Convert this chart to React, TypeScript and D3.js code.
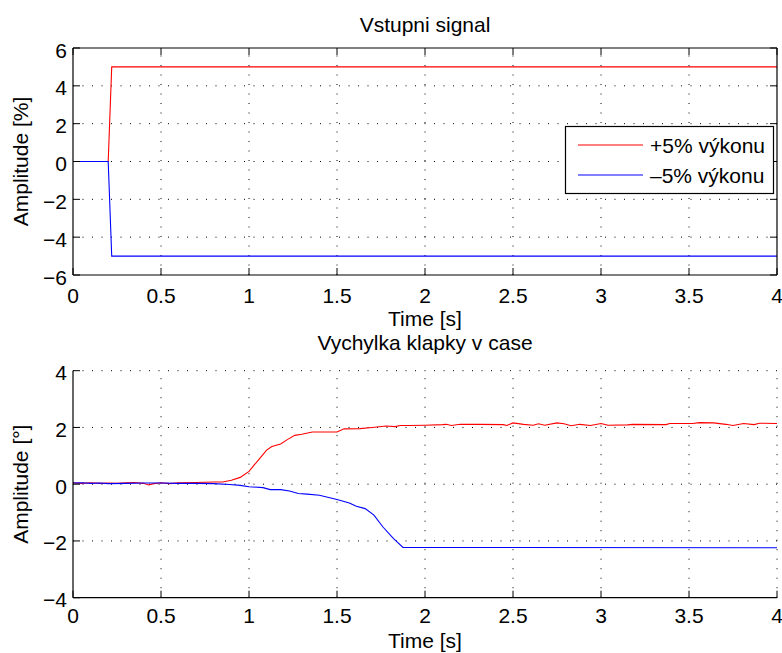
import React from "react";
import * as d3 from "d3";

const inputTime = [0, 0.2, 0.22, 4];
const inputPlus = [0, 0, 5, 5];
const inputMinus = [0, 0, -5, -5];

const respTimePlus = [0, 0.05, 0.1, 0.15, 0.2, 0.25, 0.3, 0.35, 0.4, 0.43, 0.46, 0.5, 0.55, 0.6, 0.7, 0.8, 0.85, 0.9, 0.95, 1.0, 1.03, 1.06, 1.1, 1.13, 1.18, 1.22, 1.26, 1.3, 1.36, 1.5, 1.54, 1.63, 1.7, 1.78, 1.83, 1.86, 1.91, 2.0, 2.1, 2.12, 2.15, 2.2, 2.31, 2.445, 2.465, 2.5, 2.56, 2.615, 2.645, 2.68, 2.75, 2.79, 2.83, 2.88, 2.94, 3.0, 3.04, 3.15, 3.18, 3.37, 3.39, 3.52, 3.56, 3.64, 3.71, 3.75, 3.81, 3.87, 3.9, 4.0];
const respPlus = [0.05, 0.03, 0.05, 0.03, 0.04, 0.03, 0.05, 0.06, 0.03, -0.03, 0.02, 0.05, 0.02, 0.05, 0.06, 0.08, 0.08, 0.14, 0.24, 0.45, 0.68, 0.9, 1.2, 1.33, 1.42, 1.58, 1.72, 1.76, 1.84, 1.84, 1.95, 1.96, 2.0, 2.05, 2.03, 2.07, 2.07, 2.08, 2.1, 2.11, 2.07, 2.11, 2.11, 2.1, 2.07, 2.16, 2.11, 2.08, 2.13, 2.08, 2.16, 2.13, 2.06, 2.11, 2.07, 2.14, 2.08, 2.09, 2.11, 2.1, 2.14, 2.14, 2.17, 2.16, 2.11, 2.07, 2.14, 2.1, 2.15, 2.14];

const respTimeMinus = [0, 0.05, 0.1, 0.15, 0.2, 0.3, 0.4, 0.5, 0.6, 0.7, 0.8, 0.89, 0.95, 1.0, 1.08, 1.12, 1.18, 1.23, 1.28, 1.33, 1.4, 1.5, 1.57, 1.61, 1.66, 1.71, 1.76, 1.82, 1.875, 4.0];
const respMinus = [0.04, 0.05, 0.03, 0.04, 0.02, 0.03, 0.04, 0.04, 0.03, 0.03, 0.02, -0.01, -0.04, -0.09, -0.12, -0.19, -0.19, -0.24, -0.33, -0.35, -0.39, -0.54, -0.66, -0.78, -0.86, -1.09, -1.5, -1.91, -2.23, -2.24];

const xTicks = [0, 0.5, 1, 1.5, 2, 2.5, 3, 3.5, 4];
const xTickLabels = ["0", "0.5", "1", "1.5", "2", "2.5", "3", "3.5", "4"];
const yTicksTop = [-6, -4, -2, 0, 2, 4, 6];
const yTicksBottom = [-4, -2, 0, 2, 4];

const legendLabels = ["+5% výkonu", "\u20135% výkonu"];
const seriesColors = ["#ff0000", "#0000ff"];

const FONT = "'Liberation Sans', Arial, Helvetica, sans-serif";
const FS = 21;
const TICK = 7;
const DASH = "1,8.5";

const fmtY = (v: number) => (v < 0 ? "\u2212" + Math.abs(v) : String(v));

function Panel({ yDomain, yRange, yTicks, box, title, titleY, ylabel, series, tickBaseline, xlabelBaseline }: any) {
  const x = d3.scaleLinear().domain([0, 4]).range([73, 777]);
  const y = d3.scaleLinear().domain(yDomain).range(yRange);
  const [x0, x1] = x.range();
  const yb = y(yDomain[0]);
  const yt = y(yDomain[1]);
  const line = d3.line<[number, number]>().x((d) => x(d[0])).y((d) => y(d[1]));
  const vGrid = xTicks.filter((t) => t !== 0 && (!box || t !== 4));
  const hGrid = yTicks.filter((t: number) => t !== yDomain[0] && (!box || t !== yDomain[1]));
  return (
    <g>
      {vGrid.map((t) => (
        <line key={"vg" + t} x1={x(t)} x2={x(t)} y1={yb} y2={yt} stroke="#000" strokeWidth={1} strokeDasharray={DASH} />
      ))}
      {hGrid.map((t: number) => (
        <line key={"hg" + t} x1={x0} x2={x1} y1={y(t)} y2={y(t)} stroke="#000" strokeWidth={1} strokeDasharray={DASH} />
      ))}
      {series.map((s: any, i: number) => (
        <path key={"s" + i} d={line(s.t.map((tt: number, j: number) => [tt, s.v[j]]) as any) || ""} fill="none" stroke={s.color} strokeWidth={1.1} />
      ))}
      {/* axes */}
      <line x1={x0} x2={x1} y1={yb} y2={yb} stroke="#000" strokeWidth={1.2} />
      <line x1={x0} x2={x0} y1={yb} y2={yt} stroke="#000" strokeWidth={1.2} />
      {box && <line x1={x0} x2={x1} y1={yt} y2={yt} stroke="#000" strokeWidth={1.2} />}
      {box && <line x1={x1} x2={x1} y1={yb} y2={yt} stroke="#000" strokeWidth={1.2} />}
      {xTicks.map((t, i) => (
        <g key={"xt" + t}>
          <line x1={x(t)} x2={x(t)} y1={yb} y2={yb - TICK} stroke="#000" strokeWidth={1} />
          {box && <line x1={x(t)} x2={x(t)} y1={yt} y2={yt + TICK} stroke="#000" strokeWidth={1} />}
          <text x={x(t)} y={tickBaseline} textAnchor="middle" fontSize={FS} fontFamily={FONT}>{xTickLabels[i]}</text>
        </g>
      ))}
      {yTicks.map((t: number) => (
        <g key={"yt" + t}>
          <line x1={x0} x2={x0 + TICK} y1={y(t)} y2={y(t)} stroke="#000" strokeWidth={1} />
          {box && <line x1={x1} x2={x1 - TICK} y1={y(t)} y2={y(t)} stroke="#000" strokeWidth={1} />}
          <text x={67} y={y(t) + 9.5} textAnchor="end" fontSize={FS} fontFamily={FONT}>{fmtY(t)}</text>
        </g>
      ))}
      <text x={(x0 + x1) / 2} y={titleY} textAnchor="middle" fontSize={FS} fontFamily={FONT}>{title}</text>
      <text x={(x0 + x1) / 2} y={xlabelBaseline} textAnchor="middle" fontSize={FS} fontFamily={FONT}>Time [s]</text>
      <text transform={`translate(28,${(yb + yt) / 2}) rotate(-90)`} textAnchor="middle" fontSize={FS} fontFamily={FONT}>{ylabel}</text>
    </g>
  );
}

export default function App() {
  return (
    <svg width={782} height={653} style={{ position: "absolute", left: 0, top: 0, background: "#fff" }}>
      <rect x={0} y={0} width={782} height={653} fill="#fff" />
      <Panel
        yDomain={[-6, 6]}
        yRange={[275, 48]}
        yTicks={yTicksTop}
        box={true}
        title="Vstupni signal"
        titleY={31.5}
        ylabel="Amplitude [%]"
        tickBaseline={302.5}
        xlabelBaseline={326}
        series={[
          { t: inputTime, v: inputPlus, color: seriesColors[0] },
          { t: inputTime, v: inputMinus, color: seriesColors[1] },
        ]}
      />
      <Panel
        yDomain={[-4, 4]}
        yRange={[597.7, 370.7]}
        yTicks={yTicksBottom}
        box={false}
        title="Vychylka klapky v case"
        titleY={350}
        ylabel="Amplitude [°]"
        tickBaseline={623}
        xlabelBaseline={648}
        series={[
          { t: respTimePlus, v: respPlus, color: seriesColors[0] },
          { t: respTimeMinus, v: respMinus, color: seriesColors[1] },
        ]}
      />
      {/* legend */}
      <g>
        <rect x={565.5} y={126.5} width={208} height={67} fill="#fff" stroke="#000" strokeWidth={1.2} />
        {legendLabels.map((lab, i) => (
          <g key={lab}>
            <line x1={578} x2={643} y1={145 + i * 30} y2={145 + i * 30} stroke={seriesColors[i]} strokeWidth={1.1} />
            <text x={650} y={153 + i * 30} fontSize={FS} fontFamily={FONT}>{lab}</text>
          </g>
        ))}
      </g>
    </svg>
  );
}
